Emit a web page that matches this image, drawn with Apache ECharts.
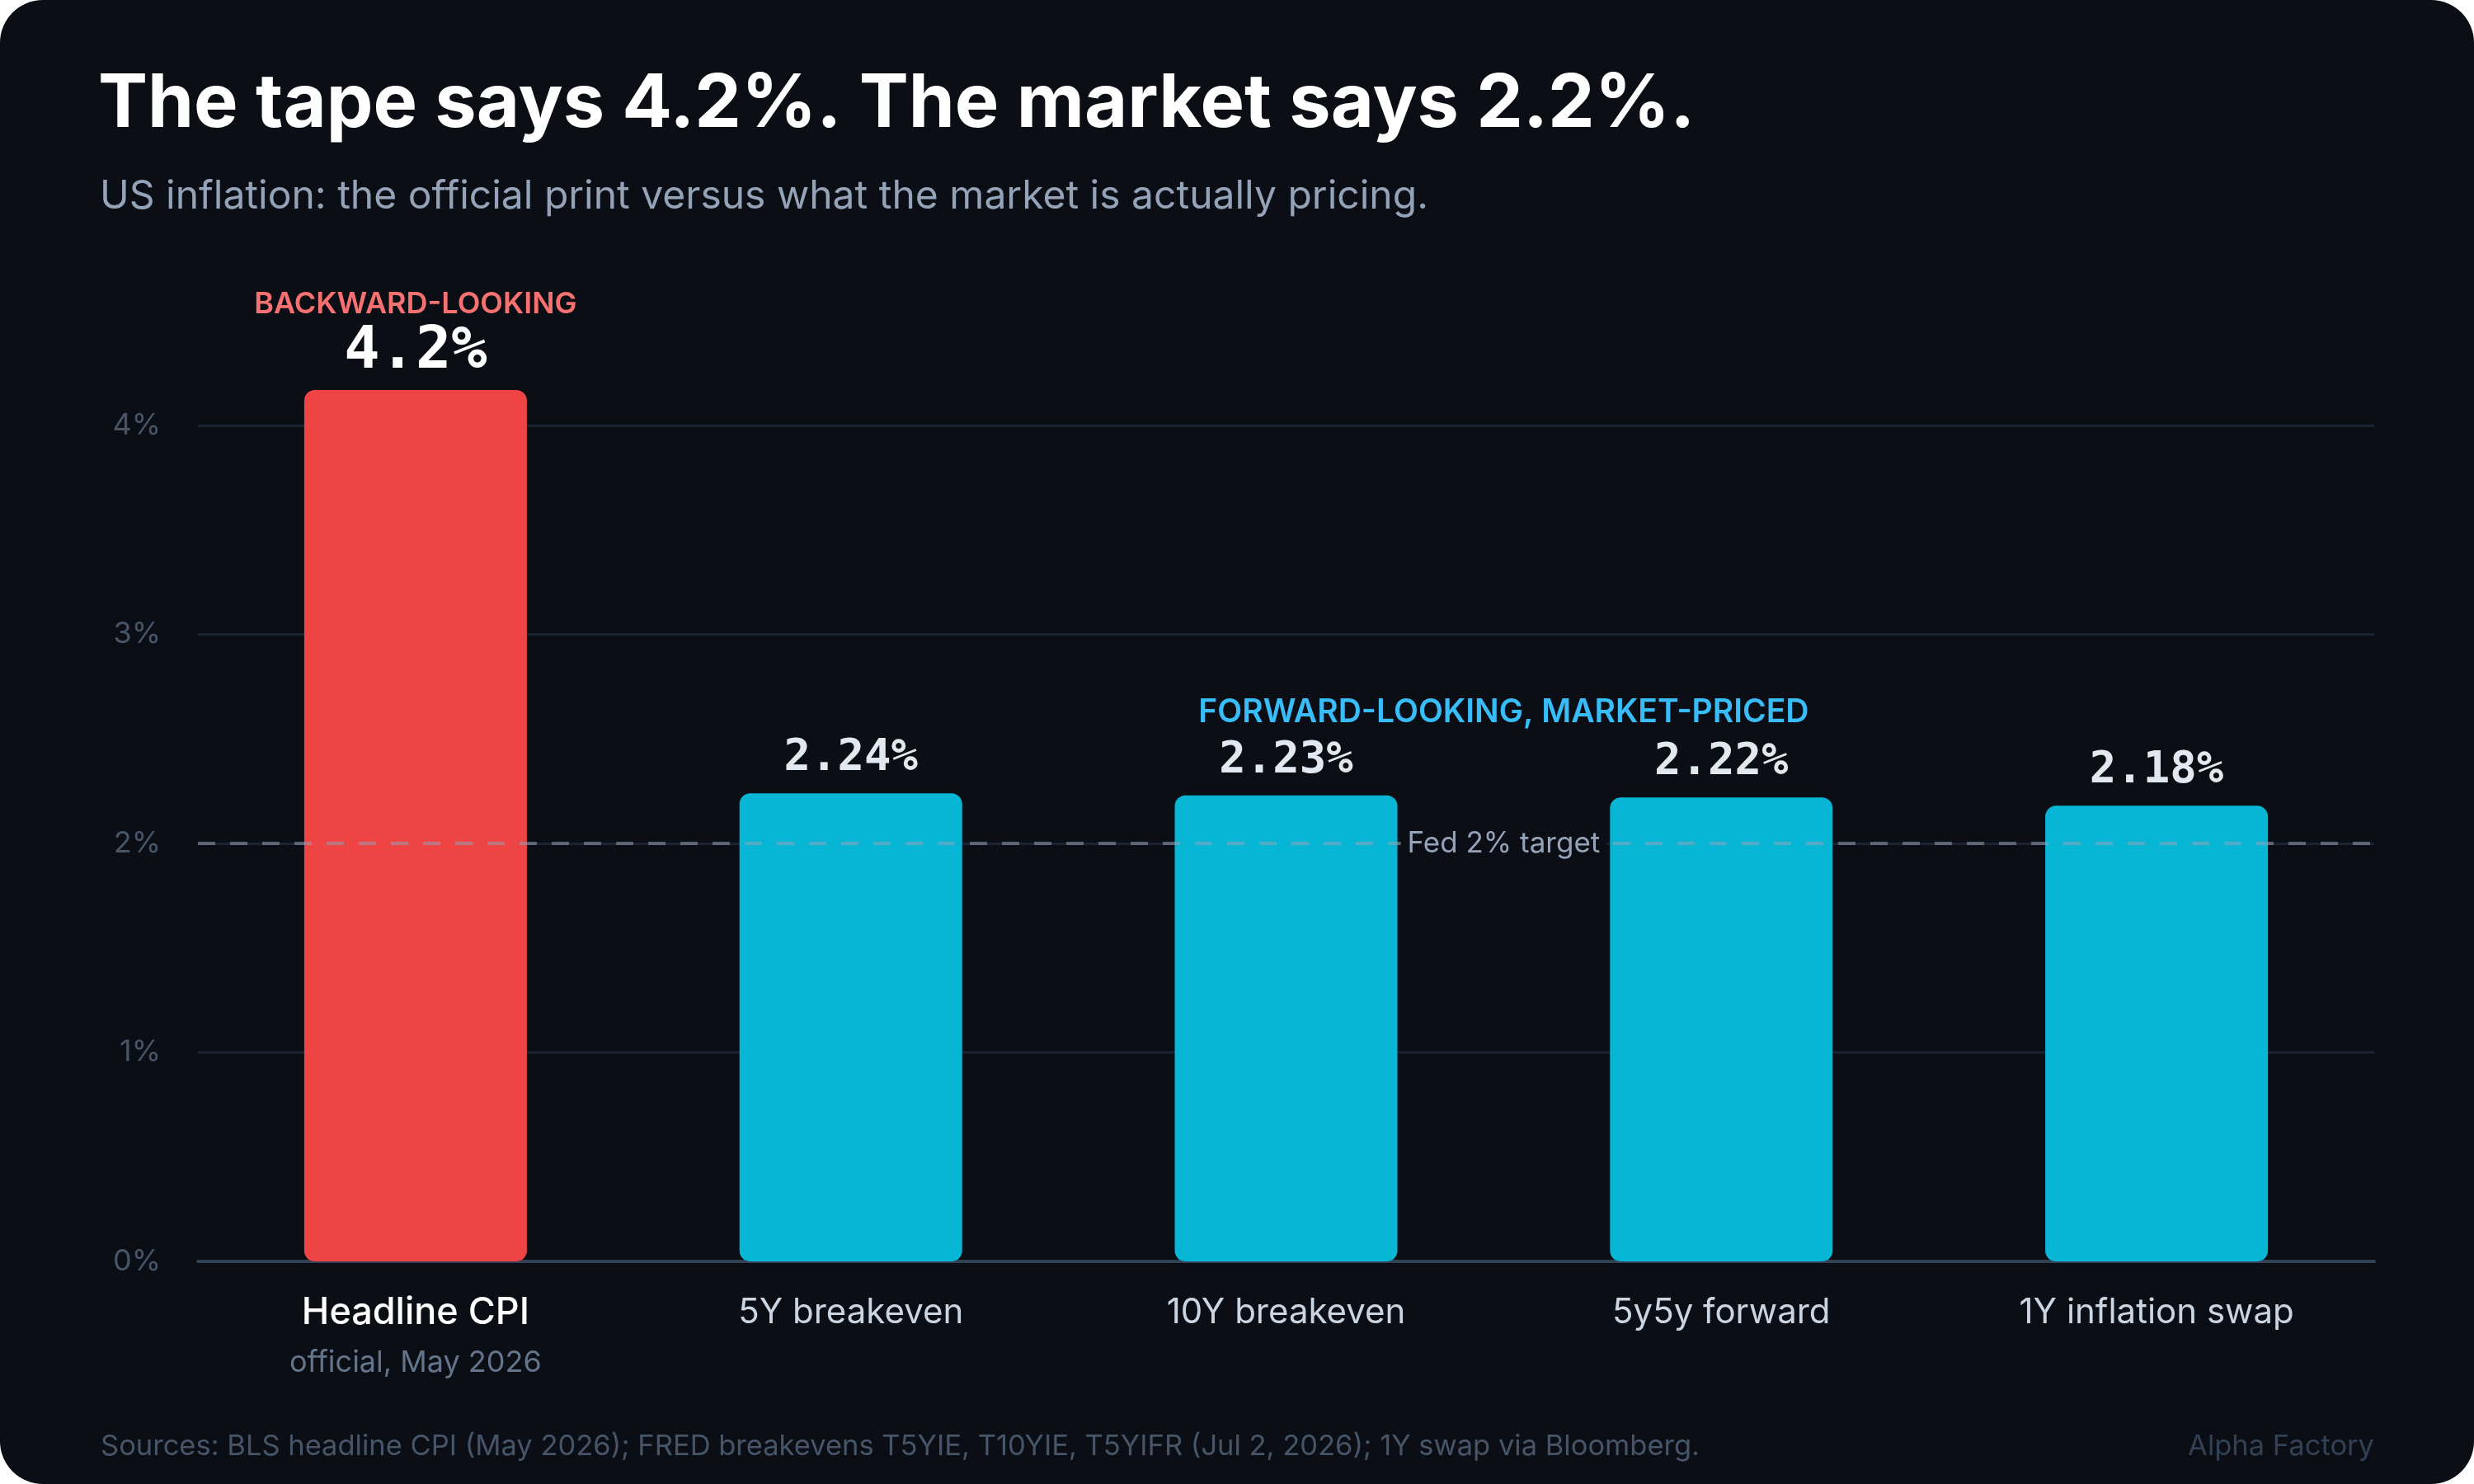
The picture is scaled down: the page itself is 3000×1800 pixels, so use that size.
<!DOCTYPE html>
<html>
<head>
<meta charset="utf-8">
<script src="https://cdn.jsdelivr.net/npm/echarts@6/dist/echarts.min.js"></script>
<style>
  html, body { margin: 0; padding: 0; background: #ffffff; }
  #card { width: 3000px; height: 1800px; background: #0b0e15; border-radius: 52px; overflow: hidden; }
</style>
</head>
<body>
<div id="card"></div>
<script>
// categories and values
const categories = ["Headline CPI", "5Y breakeven", "10Y breakeven", "5y5y forward", "1Y inflation swap"];
const values = [4.17, 2.24, 2.23, 2.22, 2.18];
const valueLabels = ["4.2%", "2.24%", "2.23%", "2.22%", "2.18%"];
const yTicks = [0, 1, 2, 3, 4];
const fedTarget = 2;

const RED = "#ef4444";
const CYAN = "#06b6d4";
const SANS = "Inter, 'Noto Sans', sans-serif";
const MONO = "'DejaVu Sans Mono', monospace";

const chart = echarts.init(document.getElementById("card"), null, { renderer: "canvas" });

const option = {
  backgroundColor: "transparent",
  animation: false,
  title: [
    {
      text: "The tape says 4.2%. The market says 2.2%.",
      left: 114,
      top: 77,
      textStyle: { color: "#ffffff", fontFamily: SANS, fontSize: 90, fontWeight: 700 },
    },
    {
      text: "US inflation: the official print versus what the market is actually pricing.",
      left: 116,
      top: 210,
      textStyle: { color: "#94a3b8", fontFamily: SANS, fontSize: 48, fontWeight: 400 },
    },
    {
      text: "Sources: BLS headline CPI (May 2026); FRED breakevens T5YIE, T10YIE, T5YIFR (Jul 2, 2026); 1Y swap via Bloomberg.",
      left: 117,
      top: 1732,
      textStyle: { color: "#475569", fontFamily: SANS, fontSize: 34.5, fontWeight: 400 },
    },
    {
      text: "Alpha Factory",
      right: 116,
      top: 1732,
      textStyle: { color: "#334155", fontFamily: SANS, fontSize: 34.5, fontWeight: 400 },
    },
  ],
  grid: { left: 240, right: 121, top: 516, bottom: 270 },
  xAxis: {
    type: "category",
    data: categories,
    axisTick: { show: false },
    axisLine: { lineStyle: { color: "#334155", width: 4 } },
    axisLabel: {
      margin: 36,
      interval: 0,
      formatter: (v, i) =>
        i === 0 ? "{main|" + v + "}\n{sub|official, May 2026}" : "{cat|" + v + "}",
      rich: {
        main: { color: "#ffffff", fontFamily: SANS, fontSize: 45, fontWeight: 500, lineHeight: 52 },
        sub: { color: "#64748b", fontFamily: SANS, fontSize: 36, lineHeight: 70 },
        cat: { color: "#cbd5e1", fontFamily: SANS, fontSize: 42, lineHeight: 52 },
      },
    },
  },
  yAxis: {
    type: "value",
    min: yTicks[0],
    max: yTicks[yTicks.length - 1],
    interval: 1,
    axisLine: { show: false },
    axisTick: { show: false },
    axisLabel: {
      margin: 45,
      formatter: "{value}%",
      color: "#475569",
      fontFamily: SANS,
      fontSize: 36,
    },
    splitLine: { lineStyle: { color: "#1b2230", width: 3 } },
  },
  series: [
    {
      type: "bar",
      clip: false,
      barWidth: 270,
      data: values.map((v, i) => ({
        value: v,
        itemStyle: { color: i === 0 ? RED : CYAN, borderRadius: 13 },
        label: { distance: i === 0 ? 10 : 14 },
      })),
      label: {
        show: true,
        position: "top",
        formatter: (p) =>
          p.dataIndex === 0
            ? "{tag|BACKWARD-LOOKING}\n{big|" + valueLabels[0] + "}"
            : "{val|" + valueLabels[p.dataIndex] + "}",
        rich: {
          tag: { color: "#f87171", fontFamily: SANS, fontSize: 36, fontWeight: 600, lineHeight: 44 },
          big: { color: "#ffffff", fontFamily: MONO, fontSize: 72, fontWeight: "bold", lineHeight: 72 },
          val: { color: "#e2e8f0", fontFamily: MONO, fontSize: 54, fontWeight: "bold", lineHeight: 56 },
        },
      },
      markLine: {
        silent: true,
        symbol: "none",
        z: 10,
        label: { show: false },
        lineStyle: { color: "rgba(148,163,184,0.55)", width: 4, type: [21, 18] },
        data: [{ yAxis: fedTarget }],
      },
    },
  ],
};

chart.setOption(option);

// annotations placed from the data coordinates
const x1 = chart.convertToPixel({ xAxisIndex: 0 }, categories[1]);
const x4 = chart.convertToPixel({ xAxisIndex: 0 }, categories[4]);
const midX = (x1 + x4) / 2;
const fedY = chart.convertToPixel({ yAxisIndex: 0 }, fedTarget);
const topY = chart.convertToPixel({ yAxisIndex: 0 }, Math.max(...values.slice(1)));

chart.setOption({
  graphic: [
    {
      type: "text",
      x: midX,
      y: topY - 98,
      z: 20,
      style: {
        text: "FORWARD-LOOKING, MARKET-PRICED",
        fill: "#38bdf8",
        font: "600 39px " + SANS,
        textAlign: "center",
        textVerticalAlign: "middle",
      },
    },
    {
      type: "text",
      x: midX,
      y: fedY,
      z: 20,
      style: {
        text: "Fed 2% target",
        fill: "#94a3b8",
        font: "400 35px " + SANS,
        textAlign: "center",
        textVerticalAlign: "middle",
        backgroundColor: "#0b0e15",
        padding: [2, 8],
      },
    },
  ],
});
</script>
</body>
</html>
